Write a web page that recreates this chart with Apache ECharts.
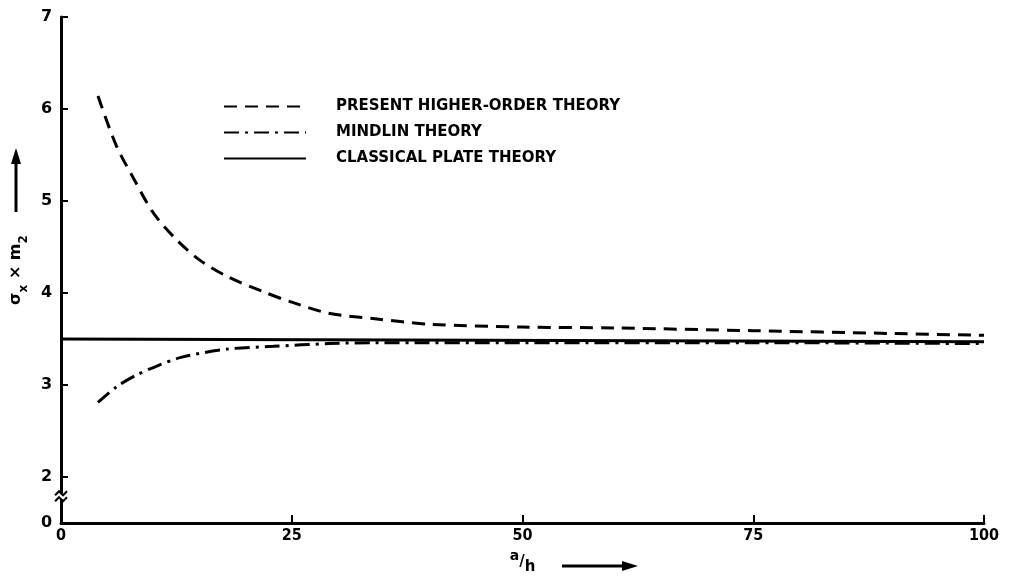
<!DOCTYPE html>
<html>
<head>
<meta charset="utf-8">
<script src="https://cdn.jsdelivr.net/npm/echarts@6/dist/echarts.min.js"></script>
<style>
  html, body { margin: 0; background: #fff; }
  #chart { width: 1019px; height: 580px; }
</style>
</head>
<body>
<div id="chart"></div>
<script>
const hoX = [4, 6, 8, 10, 12.5, 15, 18, 22, 25, 29, 34, 40, 50, 60, 75, 90, 100];
const hoY = [6.14, 5.6, 5.22, 4.87, 4.58, 4.36, 4.18, 4.01, 3.9, 3.78, 3.72, 3.66, 3.63, 3.62, 3.59, 3.56, 3.54];
const mindlinX = [4, 6, 8, 10, 13, 18, 23, 29, 34, 50, 75, 100];
const mindlinY = [2.81, 2.98, 3.1, 3.19, 3.3, 3.39, 3.42, 3.45, 3.46, 3.46, 3.46, 3.45];
const classicalX = [0, 100];
const classicalY = [3.5, 3.47];

const seriesNames = ['PRESENT HIGHER-ORDER THEORY', 'MINDLIN THEORY', 'CLASSICAL PLATE THEORY'];
const xTicks = [0, 25, 50, 75, 100];
// y axis has a break: the bottom of the axis stands for 0
const yTickValues = [1.5, 2, 3, 4, 5, 6, 7];
const yTickLabels = ['0', '2', '3', '4', '5', '6', '7'];

const pairs = (xs, ys) => xs.map((x, i) => [x, ys[i]]);

const chart = echarts.init(document.getElementById('chart'));
const font = 'DejaVu Sans';
const narrow = '"DejaVu Sans Condensed", "DejaVu Sans"';

chart.setOption({
  animation: false,
  backgroundColor: '#fff',
  grid: { left: 56, right: 35, top: 17, bottom: 49 },
  legend: {
    orient: 'vertical',
    left: 218,
    top: 94,
    itemWidth: 82,
    itemHeight: 14,
    itemGap: 11,
    data: seriesNames,
    itemStyle: { opacity: 0 },
    textStyle: { color: '#000', fontFamily: font, fontSize: 15, fontWeight: 'bold', padding: [0, 0, 0, 25] }
  },
  xAxis: {
    type: 'value',
    min: 0,
    max: 100,
    interval: 25,
    name: '{a|a}{s|/}{h|h}',
    nameLocation: 'middle',
    nameGap: 26,
    nameTextStyle: {
      rich: {
        a: { fontFamily: font, fontSize: 14, fontWeight: 'bold', color: '#000', verticalAlign: 'top', lineHeight: 22 },
        s: { fontFamily: font, fontSize: 15, fontWeight: 'bold', color: '#000', lineHeight: 22 },
        h: { fontFamily: font, fontSize: 15, fontWeight: 'bold', color: '#000', verticalAlign: 'bottom', lineHeight: 26 }
      }
    },
    axisLine: { lineStyle: { color: '#000', width: 3 } },
    axisTick: { inside: true, length: 8, lineStyle: { color: '#000', width: 2 } },
    axisLabel: {
      color: '#000', fontFamily: narrow, fontSize: 16, fontWeight: 'bold', margin: 5,
      customValues: xTicks
    },
    splitLine: { show: false }
  },
  yAxis: {
    type: 'value',
    min: 1.5,
    max: 7,
    name: '{t|σ}{sub|x}{t| × m}{sub|2}',
    nameLocation: 'middle',
    nameRotate: 90,
    nameGap: 26,
    nameTextStyle: {
      rich: {
        t: { fontFamily: font, fontSize: 16, fontWeight: 'bold', color: '#000', lineHeight: 24 },
        sub: { fontFamily: font, fontSize: 12, fontWeight: 'bold', color: '#000', verticalAlign: 'bottom', lineHeight: 28 }
      }
    },
    axisLine: { lineStyle: { color: '#000', width: 3 } },
    axisTick: {
      inside: true, length: 7, lineStyle: { color: '#000', width: 2 },
      customValues: yTickValues.slice(1)
    },
    axisLabel: {
      color: '#000', fontFamily: font, fontSize: 16, fontWeight: 'bold', margin: 9,
      customValues: yTickValues,
      formatter: v => yTickLabels[yTickValues.indexOf(v)]
    },
    splitLine: { show: false }
  },
  series: [
    {
      name: seriesNames[0],
      type: 'line',
      smooth: 0.3,
      symbol: 'none',
      lineStyle: { color: '#000', width: 3, type: [13, 8] },
      itemStyle: { color: '#000' },
      data: pairs(hoX, hoY)
    },
    {
      name: seriesNames[1],
      type: 'line',
      smooth: 0.3,
      symbol: 'none',
      lineStyle: { color: '#000', width: 3, type: [15, 6, 3, 6] },
      itemStyle: { color: '#000' },
      data: pairs(mindlinX, mindlinY)
    },
    {
      name: seriesNames[2],
      type: 'line',
      symbol: 'none',
      lineStyle: { color: '#000', width: 3 },
      itemStyle: { color: '#000' },
      data: pairs(classicalX, classicalY)
    }
  ]
});

// axis break mark and direction arrows
const brk = chart.convertToPixel({ yAxisIndex: 0 }, 1.78);
const axX = chart.convertToPixel({ xAxisIndex: 0 }, 0);
chart.setOption({
  graphic: [
    { type: 'rect', shape: { x: axX - 4, y: brk - 4, width: 8, height: 6 }, style: { fill: '#fff' }, z: 100 },
    { type: 'polyline', shape: { points: [[axX - 6, brk - 2], [axX - 2, brk - 6], [axX + 2, brk - 2], [axX + 6, brk - 6]] }, style: { stroke: '#000', lineWidth: 2, fill: null }, z: 101 },
    { type: 'polyline', shape: { points: [[axX - 6, brk + 4], [axX - 2, brk], [axX + 2, brk + 4], [axX + 6, brk]] }, style: { stroke: '#000', lineWidth: 2, fill: null }, z: 101 },
    // y arrow
    { type: 'line', shape: { x1: 16, y1: 212, x2: 16, y2: 160 }, style: { stroke: '#000', lineWidth: 3 } },
    { type: 'polygon', shape: { points: [[11, 164], [21, 164], [16, 148]] }, style: { fill: '#000' } },
    // x arrow
    { type: 'line', shape: { x1: 562, y1: 566, x2: 626, y2: 566 }, style: { stroke: '#000', lineWidth: 3 } },
    { type: 'polygon', shape: { points: [[622, 561], [622, 571], [638, 566]] }, style: { fill: '#000' } }
  ]
});
</script>
</body>
</html>
